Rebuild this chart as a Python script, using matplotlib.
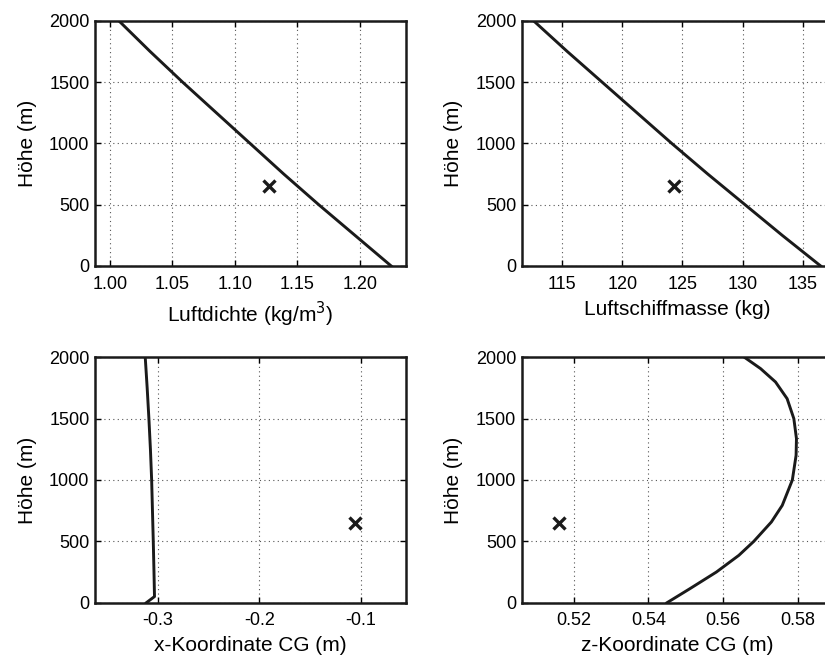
import matplotlib
matplotlib.use("Agg")
import matplotlib.pyplot as plt

plt.rcParams['font.family'] = ['Liberation Sans', 'DejaVu Sans']
plt.rcParams['font.size'] = 15

# altitude profile (m)
hoehe = [0, 250, 500, 750, 1000, 1250, 1500, 1750, 2000]
luftdichte = [1.225, 1.196, 1.167, 1.139, 1.112, 1.085, 1.058, 1.032, 1.007]
masse = [136.5, 133.3, 130.2, 127.1, 124.1, 121.2, 118.3, 115.4, 112.6]

hoehe_x = [0, 50, 250, 500, 750, 1000, 1250, 1500, 1750, 2000]
x_cg = [-0.311, -0.3030, -0.3035, -0.3042, -0.3050, -0.3058, -0.3070,
        -0.3085, -0.3102, -0.3121]

hoehe_z = [0, 114, 250, 386, 500, 658, 793, 1000, 1201, 1337, 1500,
           1663, 1799, 1908, 2000]
z_cg = [0.5450, 0.5511, 0.5582, 0.5642, 0.5682, 0.5729, 0.5758, 0.5785,
        0.5795, 0.5796, 0.5789, 0.5771, 0.5740, 0.5700, 0.5657]

# operating point (x marker)
punkt_hoehe = 650
punkt_dichte = 1.127
punkt_masse = 124.3
punkt_x = -0.106
punkt_z = 0.516

W, H = 825, 658
fig = plt.figure(figsize=(W / 100, H / 100), dpi=100)


def make_axes(x0, y0, x1, y1):
    return fig.add_axes([x0 / W, 1 - y1 / H, (x1 - x0) / W, (y1 - y0) / H])


def style(ax, xlim, xticks, xticklabels, xlabel):
    ax.set_xlim(*xlim)
    ax.set_ylim(0, 2000)
    ax.set_xticks(xticks)
    ax.set_xticklabels(xticklabels)
    ax.set_yticks([0, 500, 1000, 1500, 2000])
    ax.set_xlabel(xlabel, labelpad=5, fontsize=15)
    ax.set_ylabel('Höhe (m)', labelpad=9, fontsize=15)
    ax.grid(True, linestyle=(0, (1, 3)), color='#555555', linewidth=0.8)
    ax.tick_params(direction='in', top=True, right=True, length=4,
                   width=1.0, labelsize=13)
    ax.tick_params(axis='x', pad=7)
    ax.tick_params(axis='y', pad=4)
    for s in ax.spines.values():
        s.set_linewidth(1.8)
        s.set_color('#1a1a1a')


line_kw = dict(color='#1a1a1a', linewidth=2.1, solid_joinstyle='round')
mark_kw = dict(marker='x', color='#1a1a1a', markersize=8, markeredgewidth=2.4,
               linestyle='none')

ax1 = make_axes(95, 20.7, 405.7, 266)
ax1.plot(luftdichte, hoehe, **line_kw)
ax1.plot([punkt_dichte], [punkt_hoehe], **mark_kw)
style(ax1, (0.988, 1.2366), [1.00, 1.05, 1.10, 1.15, 1.20],
      ['1.00', '1.05', '1.10', '1.15', '1.20'], 'Luftdichte (kg/m$^3$)')

ax2 = make_axes(521.7, 20.7, 832, 266)
ax2.plot(masse, hoehe, **line_kw)
ax2.plot([punkt_masse], [punkt_hoehe], **mark_kw)
style(ax2, (111.62, 137.44), [115, 120, 125, 130, 135],
      ['115', '120', '125', '130', '135'], 'Luftschiffmasse (kg)')

ax3 = make_axes(95, 357.3, 405.7, 602.7)
ax3.plot(x_cg, hoehe_x, **line_kw)
ax3.plot([punkt_x], [punkt_hoehe], **mark_kw)
style(ax3, (-0.3615, -0.056), [-0.3, -0.2, -0.1],
      ['-0.3', '-0.2', '-0.1'], 'x-Koordinate CG (m)')

ax4 = make_axes(521.7, 357.3, 832, 602.7)
ax4.plot(z_cg, hoehe_z, **line_kw)
ax4.plot([punkt_z], [punkt_hoehe], **mark_kw)
style(ax4, (0.50615, 0.5891), [0.52, 0.54, 0.56, 0.58],
      ['0.52', '0.54', '0.56', '0.58'], 'z-Koordinate CG (m)')

fig.savefig('out.png', dpi=100)
